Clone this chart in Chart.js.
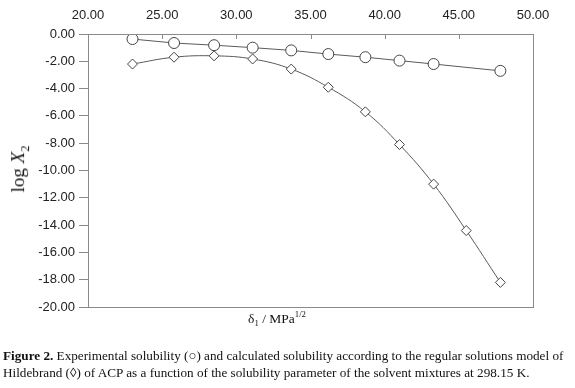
<!DOCTYPE html>
<html>
<head>
<meta charset="utf-8">
<script src="https://cdn.jsdelivr.net/npm/chart.js@4.4.1/dist/chart.umd.min.js"></script>
<style>
  body { margin: 0; background: #fff; }
  #wrap { position: relative; width: 575px; height: 388px; overflow: hidden; }
  #plot { position: absolute; left: 0; top: 0; }
  .serif { font-family: "Liberation Serif", "Times New Roman", serif; color: #111; position: absolute; white-space: nowrap; }
  #ytitle { left: 20px; top: 169px; font-size: 19px; transform: translate(-50%, -50%) rotate(-90deg); }
  #xtitle { left: 277px; top: 309px; font-size: 13.5px; transform: translateX(-50%); }
  #caption { left: 3px; top: 347px; font-size: 13.2px; line-height: 17px; }
  sub, sup { font-size: 65%; }
</style>
</head>
<body>
<div id="wrap">
  <canvas id="plot" width="575" height="388"></canvas>
  <div id="ytitle" class="serif">log <i>X</i><sub>2</sub></div>
  <div id="xtitle" class="serif">δ<sub>1</sub> / MPa<sup>1/2</sup></div>
  <div id="caption" class="serif"><b>Figure 2.</b> Experimental solubility (○) and calculated solubility according to the regular solutions model of<br>Hildebrand (◊) of ACP as a function of the solubility parameter of the solvent mixtures at 298.15 K.</div>
</div>
<script>
// solubility parameter of solvent mixtures (MPa^1/2)
const deltaExp = [23.0, 25.8, 28.5, 31.1, 33.7, 36.2, 38.7, 41.0, 43.3, 47.8];
const logX2Exp = [-0.37, -0.66, -0.82, -1.00, -1.20, -1.47, -1.70, -1.95, -2.20, -2.70];

const deltaCalc = [23.0, 25.8, 28.5, 31.1, 33.7, 36.2, 38.7, 41.0, 43.3, 45.5, 47.8];
const logX2Calc = [-2.20, -1.70, -1.60, -1.83, -2.57, -3.90, -5.70, -8.10, -11.00, -14.40, -18.20];

const xTicks = [20, 25, 30, 35, 40, 45, 50];

const toPoints = (xs, ys) => xs.map((x, i) => ({ x: x, y: ys[i] }));

// frame round the plot plus inward tick marks on the top axis
const frame = {
    id: 'frame',
    afterDraw(chart) {
        const a = chart.chartArea;
        const c = chart.ctx;
        c.save();
        c.strokeStyle = '#8a8a8a';
        c.lineWidth = 1;
        c.strokeRect(Math.round(a.left) + 0.5, Math.round(a.top) + 0.5, Math.round(a.right - a.left), Math.round(a.bottom - a.top));
        const xs = chart.scales.x;
        xTicks.forEach(v => {
            const px = Math.round(xs.getPixelForValue(v)) + 0.5;
            c.beginPath();
            c.moveTo(px, a.top);
            c.lineTo(px, a.top + 5);
            c.stroke();
        });
        c.restore();
    }
};

new Chart(document.getElementById('plot'), {
    type: 'scatter',
    data: {
        datasets: [{
            label: 'Experimental',
            data: toPoints(deltaExp, logX2Exp),
            showLine: true,
            borderColor: '#5a5a5a',
            borderWidth: 1,
            pointStyle: 'circle',
            pointRadius: 5.5,
            pointBackgroundColor: '#fff',
            pointBorderColor: '#444',
            pointBorderWidth: 1
        }, {
            label: 'Hildebrand',
            data: toPoints(deltaCalc, logX2Calc),
            showLine: true,
            tension: 0.4,
            borderColor: '#5a5a5a',
            borderWidth: 1,
            pointStyle: 'rectRot',
            pointRadius: 5,
            pointBackgroundColor: '#fff',
            pointBorderColor: '#444',
            pointBorderWidth: 1
        }]
    },
    options: {
        responsive: false,
        animation: false,
        layout: { padding: { left: 0, top: 0, right: 42, bottom: 81 } },
        plugins: { legend: { display: false }, tooltip: { enabled: false } },
        scales: {
            x: {
                type: 'linear',
                position: 'top',
                min: 20, max: 50,
                afterBuildTicks(s) { s.ticks = xTicks.map(v => ({ value: v })); },
                afterFit(s) { s.height = 34; },
                grid: { display: false, drawTicks: false },
                border: { display: false },
                ticks: {
                    padding: 11,
                    color: '#222',
                    font: { family: 'Liberation Sans, Arial, sans-serif', size: 13 },
                    callback: v => v.toFixed(2)
                }
            },
            y: {
                min: -20, max: 0,
                afterFit(s) { s.width = 88; },
                grid: { drawOnChartArea: false, tickLength: 9, color: '#8a8a8a' },
                border: { display: false },
                ticks: {
                    stepSize: 2,
                    padding: 4,
                    color: '#222',
                    font: { family: 'Liberation Sans, Arial, sans-serif', size: 13 },
                    callback: v => v.toFixed(2)
                }
            }
        }
    },
    plugins: [frame]
});
</script>
</body>
</html>
